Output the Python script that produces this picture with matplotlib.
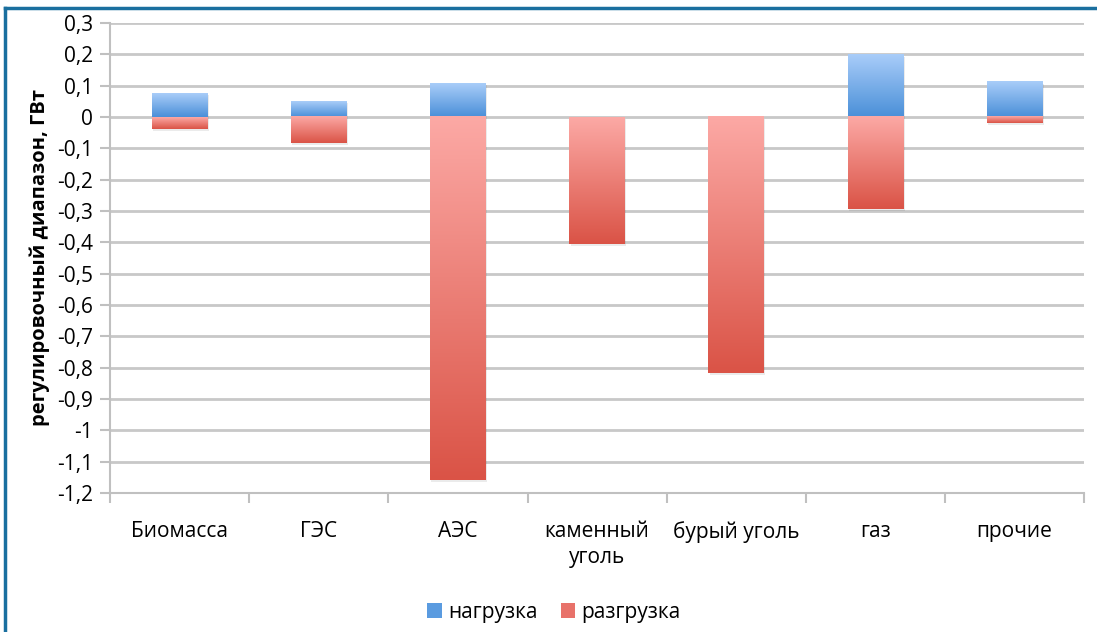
import numpy as np
import matplotlib
matplotlib.use('Agg')
import matplotlib.pyplot as plt
from matplotlib.colors import LinearSegmentedColormap
from matplotlib.patches import Rectangle, Patch
from matplotlib.lines import Line2D

plt.rcParams['font.family'] = ['Open Sans', 'DejaVu Sans']

# data
categories = ['Биомасса', 'ГЭС', 'АЭС', 'каменный\nуголь', 'бурый уголь', 'газ', 'прочие']
load_up = [0.075, 0.05, 0.107, 0.0, 0.0, 0.198, 0.112]        # нагрузка
load_down = [-0.038, -0.083, -1.16, -0.405, -0.817, -0.294, -0.02]  # разгрузка
y_ticks = np.round(np.arange(-1.2, 0.31, 0.1), 1)

blue_cmap = LinearSegmentedColormap.from_list('b', ['#4a8fd8', '#a9cdf9'])
red_cmap = LinearSegmentedColormap.from_list('r', ['#da5346', '#fca9a5'])
grad = np.linspace(0, 1, 256).reshape(-1, 1)

fig = plt.figure(figsize=(10.97, 6.32), dpi=100)
ax = fig.add_axes([0.1003, 0.22, 0.888, 0.7437])

bar_w = 0.4
x = np.arange(len(categories))

def gradient_bar(xc, y0, y1, cmap):
    lo, hi = min(y0, y1), max(y0, y1)
    if hi - lo <= 0:
        return
    # shadow
    ax.add_patch(Rectangle((xc - bar_w / 2 + 0.01, lo - 0.006), bar_w, hi - lo,
                           color='#000000', alpha=0.08, lw=0, zorder=2))
    ax.imshow(grad, cmap=cmap, aspect='auto', origin='lower',
              extent=(xc - bar_w / 2, xc + bar_w / 2, lo, hi), zorder=3)

for i in x:
    gradient_bar(i, 0, load_up[i], blue_cmap)
    gradient_bar(i, load_down[i], 0, red_cmap)

ax.set_xlim(-0.5, len(categories) - 0.5)
ax.set_ylim(-1.2, 0.3)
ax.set_yticks(y_ticks)
ax.set_yticklabels([('%g' % v).replace('.', ',') for v in y_ticks], fontsize=15)
ax.yaxis.grid(True, color='#c8c8c8', lw=2)
ax.set_axisbelow(True)

ax.set_xticks(np.arange(-0.5, len(categories), 1))
ax.set_xticklabels([])
ax.set_xticks(x, minor=True)
ax.set_xticklabels(categories, minor=True, fontsize=15, linespacing=1.35)
ax.tick_params(axis='x', which='minor', length=0, pad=20)
ax.tick_params(axis='x', which='major', length=7, color='#c0c0c0', width=1.5)
ax.tick_params(axis='y', length=7, color='#c0c0c0', width=1.5, pad=5)

for s in ['top', 'right']:
    ax.spines[s].set_visible(False)
for s in ['left', 'bottom']:
    ax.spines[s].set_color('#c0c0c0')
    ax.spines[s].set_linewidth(1.5)

ax.set_ylabel('регулировочный диапазон, ГВт', fontsize=14.5, fontweight='bold', labelpad=5)

handles = [Patch(facecolor='#5a9be0', edgecolor='none'),
           Patch(facecolor='#e8726a', edgecolor='none')]
fig.legend(handles, ['нагрузка', 'разгрузка'], loc='center', bbox_to_anchor=(0.505, 0.031),
           ncol=2, frameon=False, fontsize=15, handlelength=0.7, handleheight=0.7,
           handletextpad=0.3, columnspacing=1.1)

# blue frame (top and left edges)
fig.add_artist(Line2D([0.005, 1.0], [0.987, 0.987], transform=fig.transFigure, color='#1a6f9f', lw=2.5))
fig.add_artist(Line2D([0.005, 0.005], [0.0, 0.987], transform=fig.transFigure, color='#1a6f9f', lw=2.5))

fig.savefig('out.png', dpi=100)
